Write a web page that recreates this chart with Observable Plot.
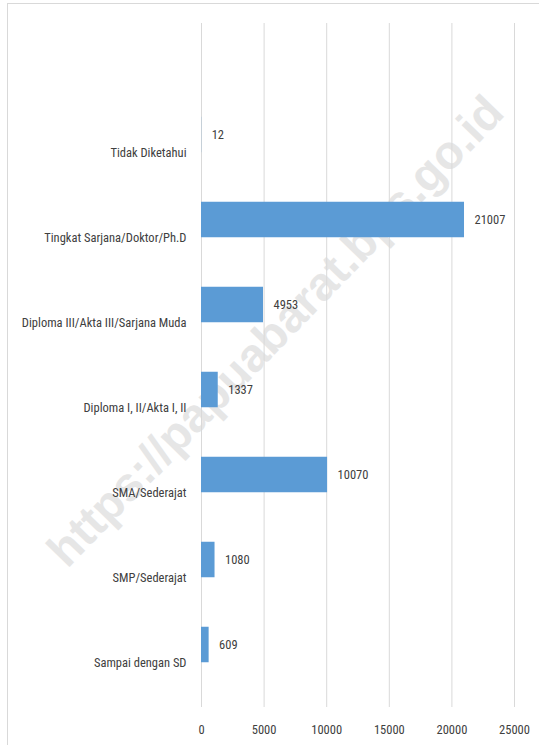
<!DOCTYPE html>
<html>
<head>
<meta charset="utf-8">
<script src="https://cdn.jsdelivr.net/npm/d3@7"></script>
<script src="https://cdn.jsdelivr.net/npm/@observablehq/plot@0.6"></script>
<style>
  html, body { margin: 0; padding: 0; background: #fff; }
  #chart { position: relative; width: 539px; height: 745px; }
  svg { font-family: "Liberation Sans Narrow", "Roboto Condensed", "DejaVu Sans Condensed", sans-serif; }
</style>
</head>
<body>
<div id="chart"></div>
<script>
const categories = [
  "Tidak Diketahui",
  "Tingkat Sarjana/Doktor/Ph.D",
  "Diploma III/Akta III/Sarjana Muda",
  "Diploma I, II/Akta I, II",
  "SMA/Sederajat",
  "SMP/Sederajat",
  "Sampai dengan SD"
];
const values = [12, 21007, 4953, 1337, 10070, 1080, 609];
const xTicks = [0, 5000, 10000, 15000, 20000, 25000];
const watermark = "https://papuabarat.bps.go.id";

const data = categories.map((c, i) => ({category: c, value: values[i]}));
const step = (707 - 23) / 8;

const chart = Plot.plot({
  width: 539,
  height: 745,
  marginLeft: 201,
  marginRight: 25,
  marginTop: 23,
  marginBottom: 38,
  style: {fontSize: "12.5px", color: "#404040", background: "#fff"},
  x: {domain: [0, 25000], ticks: xTicks, tickFormat: d => String(d), label: null},
  y: {domain: [" ", ...categories], label: null, padding: 0},
  marks: [
    Plot.text([watermark], {frameAnchor: "middle", text: d => d, rotate: -46, dx: -82, dy: -34, fontSize: 47, fontWeight: "bold", fill: "#e6e6e6", fontFamily: "Liberation Sans, Arial, sans-serif"}),
    Plot.gridX(xTicks, {stroke: "#d9d9d9", strokeOpacity: 1, strokeWidth: 1}),
    Plot.axisX({ticks: xTicks, tickSize: 0, tickPadding: 18, tickFormat: d => String(d), fill: "#404040", label: null}),
    Plot.axisY({tickSize: 0, tickPadding: 15, fill: "#404040", label: null}),
    Plot.barX(data, {x: "value", y: "category", fill: "#5b9bd5", insetTop: step / 2 - 36, insetBottom: step / 2}),
    Plot.text(data, {x: "value", y: "category", text: d => String(d.value), dx: 10, dy: -18, textAnchor: "start", fill: "#404040", fontSize: 12.5})
  ]
});

d3.select(chart).append("rect")
  .attr("x", 7.5).attr("y", 3.5).attr("width", 540).attr("height", 750)
  .attr("fill", "none").attr("stroke", "#d9d9d9").attr("stroke-width", 1);

document.getElementById("chart").append(chart);
</script>
</body>
</html>
